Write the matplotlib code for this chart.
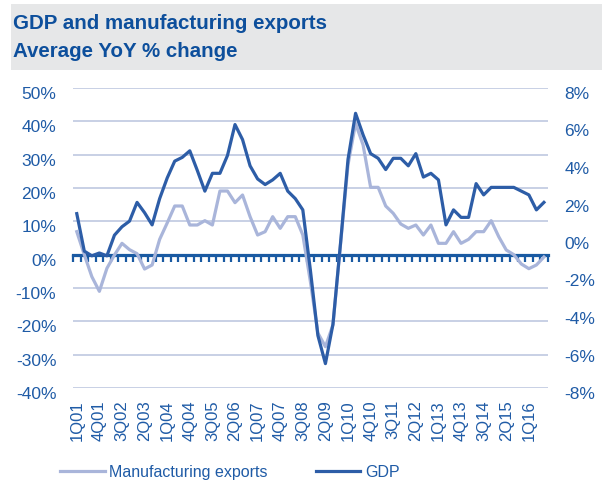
import numpy as np
import matplotlib
matplotlib.use("Agg")
import matplotlib.pyplot as plt
from matplotlib.patches import Rectangle
from matplotlib.lines import Line2D
from matplotlib.transforms import ScaledTranslation

plt.rcParams['font.family'] = ['Liberation Sans', 'DejaVu Sans']

# quarterly categories 1Q01 .. 3Q16
quarters = [f"{q}Q{y:02d}" for y in range(1, 17) for q in range(1, 5)][:63]

# left axis, %
manufacturing_exports = [
    6.9, 0.0, -6.6, -11.0, -4.1, -0.1, 3.4, 1.5, 0.3, -4.3,
    -3.1, 4.6, 9.5, 14.6, 14.6, 8.9, 8.9, 10.2, 8.9, 19.1,
    19.1, 15.6, 17.9, 11.4, 5.9, 6.9, 11.4, 7.9, 11.4, 11.4,
    5.9, -8.0, -23.5, -27.6, -21.1, 3.0, 27.0, 39.4, 32.9, 20.2,
    20.2, 14.6, 12.4, 9.2, 7.9, 8.9, 5.9, 8.9, 3.4, 3.4,
    6.9, 3.4, 4.6, 6.9, 6.9, 10.2, 5.4, 1.4, 0.0, -2.8,
    -4.2, -3.1, -0.7,
]

# right axis, %
gdp = [
    1.3, -0.7, -0.95, -0.8, -0.95, 0.15, 0.6, 0.9, 1.9, 1.35,
    0.7, 2.1, 3.2, 4.1, 4.3, 4.65, 3.6, 2.5, 3.45, 3.45,
    4.4, 6.05, 5.25, 3.85, 3.15, 2.85, 3.1, 3.45, 2.5, 2.1,
    1.5, -1.7, -5.2, -6.7, -4.6, -0.3, 4.2, 6.65, 5.5, 4.5,
    4.25, 3.65, 4.25, 4.25, 3.85, 4.5, 3.25, 3.45, 3.1, 0.7,
    1.5, 1.1, 1.1, 2.9, 2.3, 2.7, 2.7, 2.7, 2.7, 2.5,
    2.3, 1.5, 1.9,
]

left_ticks = list(range(-40, 51, 10))
right_ticks = list(range(-8, 9, 2))

TITLE = '#0d4f9c'
TEXT = '#1f5ba6'
AXIS = '#1a5aa2'
GRID = '#b9c3de'
GDP_COLOR = '#2d5da7'
MFG_COLOR = '#a9b5da'

W, H = 602, 498
fig = plt.figure(figsize=(W / 100, H / 100), dpi=100)

# header band
fig.patches.append(Rectangle((11 / W, 1 - 70 / H), 1, 66 / H, transform=fig.transFigure,
                             facecolor='#e6e7e8', edgecolor='none', zorder=0))
fig.text(13 / W, 1 - 29 / H, "GDP and manufacturing exports", fontsize=14.8,
         fontweight='bold', color=TITLE, va='baseline')
fig.text(13 / W, 1 - 57 / H, "Average YoY % change", fontsize=14.8,
         fontweight='bold', color=TITLE, va='baseline')

ax = fig.add_axes([73 / W, 110 / H, 474.7 / W, 300 / H])
x = np.arange(len(quarters))
ax.plot(x, manufacturing_exports, color=MFG_COLOR, lw=2.3, zorder=3)
ax.set_xlim(-0.5, len(quarters) - 0.5)
ax.set_ylim(-40, 50)
ax.set_yticks(left_ticks, [f"{v}%" for v in left_ticks])
ax.yaxis.grid(True, color=GRID, lw=1.1)
ax.set_axisbelow(True)
for side in ['top', 'left', 'right']:
    ax.spines[side].set_visible(False)
ax.spines['bottom'].set_position(('data', 0))
ax.spines['bottom'].set_color(AXIS)
ax.spines['bottom'].set_linewidth(2.3)
ax.spines['bottom'].set_zorder(2)
ax.set_xticks(np.arange(-0.5, len(quarters), 1))
ax.tick_params(axis='x', length=4.8, width=1.6, color=AXIS, direction='out',
               labelbottom=False)
ax.tick_params(axis='y', length=0, pad=12, labelsize=12.5, labelcolor=TEXT)

ax2 = ax.twinx()
ax2.plot(x, gdp, color=GDP_COLOR, lw=2.3, zorder=4)
ax2.set_ylim(-8, 8)
ax2.set_yticks(right_ticks, [f"{v}%" for v in right_ticks])
for side in ax2.spines:
    ax2.spines[side].set_visible(False)
ax2.tick_params(axis='y', length=0, pad=12, labelsize=12.5, labelcolor=TEXT)

# value labels sit a little below their gridlines
shift = ScaledTranslation(0, -0.05, fig.dpi_scale_trans)
for lab in ax.get_yticklabels() + ax2.get_yticklabels():
    lab.set_transform(lab.get_transform() + shift)

secax = ax.secondary_xaxis('bottom')
secax.set_xticks(x[::3], quarters[::3], rotation=90)
secax.tick_params(length=0, pad=8.6, labelsize=12, labelcolor=TEXT)
secax.spines['bottom'].set_visible(False)

handles = [Line2D([], [], color=MFG_COLOR, lw=2.3), Line2D([], [], color=GDP_COLOR, lw=2.3)]
fig.legend(handles, ["Manufacturing exports", "GDP"], loc='center left',
           bbox_to_anchor=(0.0755, 26 / H), ncol=2, frameon=False, fontsize=11.5,
           handlelength=2.8, handletextpad=0.3, columnspacing=3.0, labelcolor=TEXT)

fig.savefig('out.png', dpi=100)
